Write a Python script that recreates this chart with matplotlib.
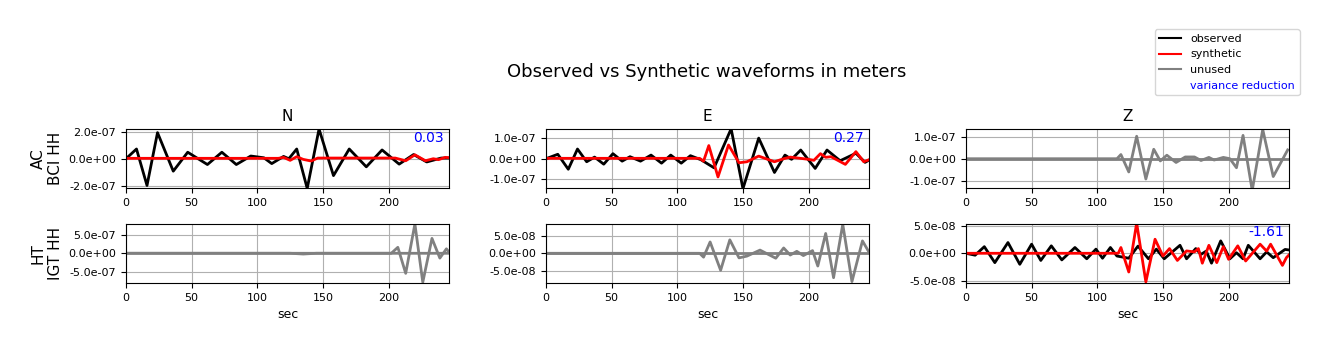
import matplotlib
matplotlib.use("Agg")
import matplotlib.pyplot as plt
from matplotlib.lines import Line2D
from matplotlib.ticker import FormatStrFormatter

# time (sec) and amplitude at turning points
# row 1: AC BCI HH, row 2: HT IGT HH
ac_n_obs_t = [0, 8, 16, 24, 36, 47, 62, 73, 84, 95, 105, 111, 120, 124, 130, 138, 147, 158, 170, 183, 195, 208, 219, 229, 240, 246]
ac_n_obs_v = [0, 0.72, -1.98, 1.93, -0.92, 0.48, -0.43, 0.48, -0.43, 0.2, 0.07, -0.36, 0.17, 0.0, 0.72, -2.2, 2.2, -1.25, 0.72, -0.6, 0.65, -0.4, 0.31, -0.24, 0.05, 0.05]
ac_n_syn_t = [0, 116, 120, 125, 130, 135, 141, 146, 205, 213, 220, 228, 234, 238, 243, 246]
ac_n_syn_v = [0.03, 0.03, 0.1, -0.12, 0.15, -0.05, -0.17, 0.05, 0.05, -0.15, 0.29, -0.15, 0.0, -0.07, 0.1, 0.08]

ac_e_obs_t = [0, 9, 17, 24, 31, 37, 44, 51, 58, 64, 72, 80, 88, 95, 103, 110, 118, 128, 141, 150, 162, 174, 182, 187, 194, 205, 214, 224, 236, 243, 246]
ac_e_obs_v = [0, 0.22, -0.52, 0.48, -0.15, 0.08, -0.27, 0.25, -0.12, 0.1, -0.12, 0.18, -0.22, 0.18, -0.22, 0.15, -0.05, -0.45, 1.48, -1.48, 1.02, -0.68, 0.18, -0.03, 0.43, -0.48, 0.43, -0.1, 0.27, -0.18, -0.07]
ac_e_syn_t = [0, 117, 120, 124, 131, 139, 147, 153, 162, 174, 181, 186, 200, 204, 209, 213, 217, 228, 236, 242, 246]
ac_e_syn_v = [0.02, 0.02, -0.12, 0.65, -0.9, 0.68, -0.2, -0.15, 0.13, -0.15, 0.0, 0.08, -0.03, -0.08, 0.25, 0.07, 0.1, -0.28, 0.35, -0.15, -0.05]

ac_z_obs_t = [0, 115, 118, 124, 130, 137, 143, 148, 153, 160, 167, 174, 179, 185, 189, 196, 201, 206, 211, 218, 226, 234, 245]
ac_z_obs_v = [0, 0, 0.19, -0.6, 1.02, -0.92, 0.43, -0.1, 0.16, -0.17, 0.08, 0.08, -0.08, 0.06, -0.06, 0.06, 0.0, -0.41, 1.06, -1.44, 1.33, -0.81, 0.4]
ac_z_syn_t = [0, 246]
ac_z_syn_v = [0, 0]

ht_n_obs_t = [0, 202, 207, 213, 220, 226, 233, 239, 244, 246]
ht_n_obs_v = [0, 0, 1.6, -5.4, 7.9, -7.8, 4.0, -1.3, 1.2, 0.3]
ht_n_syn_t = [0, 125, 135, 145, 246]
ht_n_syn_v = [0, 0, -0.2, 0, 0]

ht_e_obs_t = [0, 117, 120, 125, 133, 140, 147, 153, 163, 175, 181, 186, 191, 196, 203, 207, 213, 219, 226, 233, 241, 246]
ht_e_obs_v = [0, 0, -1.1, 3.2, -4.8, 3.8, -1.3, -0.8, 0.9, -1.4, 1.5, -0.5, 0.55, -0.65, 0.75, -3.6, 5.6, -6.9, 8.2, -8.0, 3.5, 0.3]
ht_e_syn_t = [0, 246]
ht_e_syn_v = [0, 0]

ht_z_obs_t = [0, 7, 14, 22, 32, 41, 50, 57, 65, 73, 83, 92, 99, 104, 110, 115, 124, 131, 139, 145, 151, 163, 168, 175, 179, 183, 187, 194, 201, 206, 211, 215, 224, 229, 234, 243, 246]
ht_z_obs_v = [0, -0.35, 1.2, -1.7, 1.95, -2.0, 1.65, -1.3, 1.35, -1.2, 1.05, -1.0, 0.75, -0.9, 1.05, -0.5, -0.9, 1.3, -1.0, 0.75, -1.0, 1.45, -1.0, 0.85, -0.2, 0.4, -1.8, 2.25, -1.0, 0.1, -1.0, 1.45, -1.0, 0.25, -0.8, 0.7, 0.6]
ht_z_syn_t = [0, 116, 118, 124, 130, 137, 144, 150, 155, 161, 168, 174, 177, 180, 185, 191, 196, 200, 207, 213, 224, 229, 232, 241, 244, 246]
ht_z_syn_v = [0, 0, 1.05, -3.4, 5.5, -5.2, 2.55, -0.5, 0.85, -1.3, 0.43, 0.25, 0.85, -1.8, 1.45, -1.7, 1.2, -1.1, 1.35, -1.4, 1.65, 0.4, 1.65, -2.2, -0.8, -0.3]

stations = ["AC\nBCI HH", "HT\nIGT HH"]
components = ["N", "E", "Z"]
scales = [[1e-7, 1e-7, 1e-7], [1e-7, 1e-8, 1e-8]]
tick_steps = [[2e-7, 1e-7, 1e-7], [5e-7, 5e-8, 5e-8]]
y_limits = [[2.2e-7, 1.47e-7, 1.35e-7], [8.0e-7, 8.4e-8, 5.4e-8]]
used = [[True, True, False], [False, False, True]]
var_red = [["0.03", "0.27", None], [None, None, "-1.61"]]

traces = [
    [(ac_n_obs_t, ac_n_obs_v, ac_n_syn_t, ac_n_syn_v),
     (ac_e_obs_t, ac_e_obs_v, ac_e_syn_t, ac_e_syn_v),
     (ac_z_obs_t, ac_z_obs_v, ac_z_syn_t, ac_z_syn_v)],
    [(ht_n_obs_t, ht_n_obs_v, ht_n_syn_t, ht_n_syn_v),
     (ht_e_obs_t, ht_e_obs_v, ht_e_syn_t, ht_e_syn_v),
     (ht_z_obs_t, ht_z_obs_v, ht_z_syn_t, ht_z_syn_v)],
]

fig, axes = plt.subplots(2, 3, figsize=(13.29, 3.51), dpi=100)
fig.subplots_adjust(left=0.0948, right=0.9699, bottom=0.1937, top=0.6325,
                    wspace=0.30, hspace=0.59)

for i in range(2):
    for j in range(3):
        ax = axes[i, j]
        obs_t, obs_v, syn_t, syn_v = traces[i][j]
        s = scales[i][j]
        if used[i][j]:
            c_obs, c_syn = "black", "red"
        else:
            c_obs, c_syn = "grey", "grey"
        ax.plot(obs_t, [v * s for v in obs_v], color=c_obs, lw=2,
                solid_joinstyle="round")
        ax.plot(syn_t, [v * s for v in syn_v], color=c_syn, lw=2,
                solid_joinstyle="round")
        ax.set_xlim(0, 246)
        ax.set_ylim(-y_limits[i][j], y_limits[i][j])
        step = tick_steps[i][j]
        ax.set_yticks([-step, 0, step])
        ax.set_xticks([0, 50, 100, 150, 200])
        ax.yaxis.set_major_formatter(FormatStrFormatter("%.1e"))
        ax.tick_params(labelsize=8)
        ax.grid(True, color="#b0b0b0")
        if var_red[i][j]:
            ax.text(0.985, 0.85, var_red[i][j], color="blue", fontsize=10,
                    ha="right", va="center", transform=ax.transAxes)
        if i == 0:
            ax.set_title(components[j], fontsize=11)
        else:
            ax.set_xlabel("sec", fontsize=9)
        if j == 0:
            ax.set_ylabel(stations[i], fontsize=11)

fig.suptitle("Observed vs Synthetic waveforms in meters", fontsize=13,
             x=0.532, y=0.82)

handles = [Line2D([], [], color="black"), Line2D([], [], color="red"),
           Line2D([], [], color="grey"), Line2D([], [], color="none")]
labels = ["observed", "synthetic", "unused", "variance reduction"]
leg = fig.legend(handles, labels, loc="upper right", fontsize=8,
                 bbox_to_anchor=(0.982, 0.932))
leg.get_texts()[3].set_color("blue")

fig.savefig("out.png", dpi=100)
